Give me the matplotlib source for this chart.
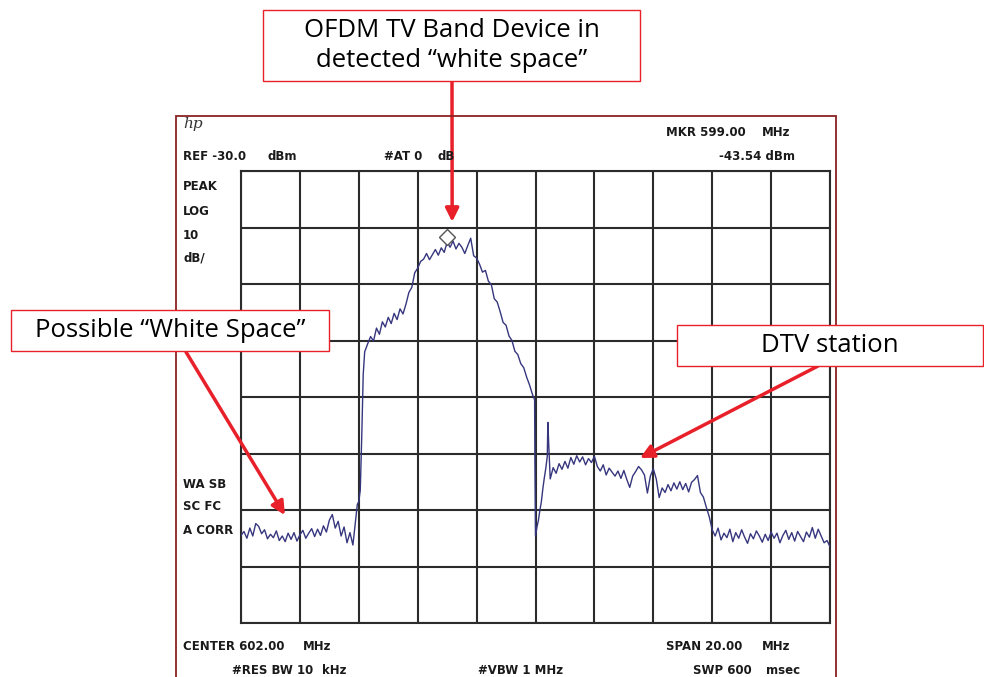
import numpy as np
import matplotlib
matplotlib.use("Agg")
import matplotlib.pyplot as plt
from matplotlib.patches import Rectangle

W, H = 984, 677

# ---------------- data ----------------
center_mhz = 602.0
span_mhz = 20.0
ref_dbm = -30.0
db_per_div = 10

# left noise floor: 592.0 .. 595.9 MHz, 0.1 MHz steps
floor_left_freq = np.linspace(592.0, 595.9, 40)
floor_left_dbm = [-94.5, -93.8, -95.0, -93.2, -94.6, -92.4, -92.9, -94.2, -93.5, -95.1,
                  -94.3, -94.9, -93.7, -95.4, -94.6, -95.6, -94.1, -95.2, -94.0, -95.5,
                  -94.4, -93.6, -95.0, -94.1, -93.3, -94.7, -93.4, -94.5, -92.8, -93.9,
                  -91.8, -90.8, -93.2, -92.0, -94.6, -93.0, -95.8, -94.0, -96.2, -91.5]

# rising edge of OFDM device
ofdm_edge_freq = [595.95, 596.0, 596.05, 596.1, 596.15, 596.2]
ofdm_edge_dbm = [-89.0, -88.5, -86.5, -77.0, -66.0, -62.0]

# OFDM TV band device: 596.3 .. 601.9 MHz, 0.1 MHz steps
ofdm_freq = np.linspace(596.3, 601.9, 57)
ofdm_dbm = [-60.6, -59.3, -60.1, -57.8, -58.9, -56.7, -57.6,
            -55.9, -57.0, -55.2, -56.3, -54.4, -55.3, -53.6, -51.5, -50.6, -48.0,
            -47.2, -46.0, -45.6, -44.6, -45.7, -44.8, -43.9, -44.9, -43.6, -44.4,
            -42.6, -43.5, -42.4, -43.8, -42.8, -43.5, -44.6, -43.2, -41.9, -45.0,
            -45.4, -46.5, -47.9, -47.6, -49.5, -50.1, -52.6, -53.2, -54.9, -56.8,
            -57.3, -59.2, -60.0, -61.9, -62.5, -64.1, -64.8, -66.5, -67.9, -69.6]

# falling edge / transition into DTV channel
gap_freq = [601.97, 601.98, 602.0, 602.05, 602.1, 602.15, 602.2, 602.25,
            602.3, 602.35, 602.4, 602.42, 602.45, 602.5]
gap_dbm = [-70.5, -81.5, -94.6, -93.0, -91.8, -90.0, -88.5, -86.2,
           -84.3, -82.6, -80.5, -74.5, -78.5, -84.5]

# DTV station: 602.6 .. 608.1 MHz, 0.1 MHz steps
dtv_freq = np.linspace(602.6, 608.1, 56)
dtv_dbm = [-82.5, -83.5, -81.8, -82.8,
           -81.4, -82.6, -80.7, -81.9, -80.4, -81.5, -80.6, -82.0, -80.9, -81.6,
           -80.5, -82.3, -83.1, -82.0, -83.8, -82.6, -83.3, -84.0, -83.1, -84.4,
           -83.0, -84.6, -86.0, -84.0, -83.2, -82.3, -82.9, -83.8, -87.0, -84.0,
           -82.7, -84.5, -87.8, -86.1, -86.9, -85.5, -86.6, -85.2, -86.3, -85.0,
           -86.4, -85.3, -86.8, -85.1, -84.6, -83.9, -86.9, -87.7, -89.5, -91.2,
           -93.5, -94.6]

# right noise floor: 608.2 .. 612.0 MHz, 0.1 MHz steps
floor_right_freq = np.linspace(608.2, 612.0, 39)
floor_right_dbm = [-93.2, -95.3, -94.1, -94.9, -93.4, -95.6, -94.0, -95.0,
                   -93.5, -94.8, -95.9, -94.2, -95.1, -93.7, -94.6, -95.7, -94.3, -95.4,
                   -93.9, -95.0, -94.1, -95.8, -94.5, -93.6, -95.2, -94.0, -95.5, -93.8,
                   -94.7, -95.6, -93.9, -94.8, -93.1, -95.0, -93.4, -94.6, -95.8, -95.4,
                   -96.5]

marker_mhz = 599.0
marker_dbm = -41.7

trace_freq = np.concatenate([floor_left_freq, ofdm_edge_freq, ofdm_freq, gap_freq,
                             dtv_freq, floor_right_freq])
trace_dbm = np.concatenate([floor_left_dbm, ofdm_edge_dbm, ofdm_dbm, gap_dbm,
                            dtv_dbm, floor_right_dbm])

# ---------------- figure ----------------
fig = plt.figure(figsize=(W / 100, H / 100), dpi=100)
fig.patch.set_facecolor("white")


def fx(x):
    return x / W


def fy(y):
    return 1 - y / H


# screenshot frame
fig.add_artist(Rectangle((fx(176), fy(690)), fx(836) - fx(176), fy(116) - fy(690),
                         transform=fig.transFigure, fill=False,
                         edgecolor="#8a2222", linewidth=1.3))

ax = fig.add_axes([fx(241), fy(623), fx(830) - fx(241), fy(171) - fy(623)])
f0 = center_mhz - span_mhz / 2
f1 = center_mhz + span_mhz / 2
ax.set_xlim(f0, f1)
ax.set_ylim(ref_dbm - 8 * db_per_div, ref_dbm)
ax.set_xticks(np.linspace(f0, f1, 11))
ax.set_yticks(np.linspace(ref_dbm - 8 * db_per_div, ref_dbm, 9))
ax.tick_params(length=0, labelbottom=False, labelleft=False)
ax.grid(True, color="#2b2b2b", linewidth=1.5)
for s in ax.spines.values():
    s.set_color("#2b2b2b")
    s.set_linewidth(1.5)

ax.plot(trace_freq, trace_dbm, color="#36367f", linewidth=1.0, zorder=3)
ax.plot([marker_mhz], [marker_dbm], marker="D", markersize=8, markerfacecolor="white",
        markeredgecolor="#555555", markeredgewidth=1.0, zorder=4, linestyle="none")

# ---------------- analyzer annotations ----------------
sa = dict(fontsize=8.5, fontweight="bold", family="DejaVu Sans", color="#1a1a1a", va="center")
fig.text(fx(183), fy(124), "hp", fontsize=11, style="italic", family="DejaVu Serif",
         color="#333333", va="center")
fig.text(fx(666), fy(133), "MKR 599.00", **sa)
fig.text(fx(762), fy(133), "MHz", **sa)
fig.text(fx(183), fy(157), "REF -30.0", **sa)
fig.text(fx(268), fy(157), "dBm", **sa)
fig.text(fx(384), fy(157), "#AT 0", **sa)
fig.text(fx(437), fy(157), "dB", **sa)
fig.text(fx(795), fy(157), "-43.54 dBm", ha="right", **sa)
for label, y in [("PEAK", 186), ("LOG", 212), ("10", 235), ("dB/", 258),
                 ("WA SB", 484), ("SC FC", 507), ("A CORR", 530)]:
    fig.text(fx(183), fy(y), label, **sa)
fig.text(fx(183), fy(647), "CENTER 602.00", **sa)
fig.text(fx(303), fy(647), "MHz", **sa)
fig.text(fx(666), fy(647), "SPAN 20.00", **sa)
fig.text(fx(762), fy(647), "MHz", **sa)
fig.text(fx(232), fy(670), "#RES BW 10", **sa)
fig.text(fx(322), fy(670), "kHz", **sa)
fig.text(fx(478), fy(670), "#VBW 1 MHz", **sa)
fig.text(fx(693), fy(670), "SWP 600", **sa)
fig.text(fx(766), fy(670), "msec", **sa)

# ---------------- callout boxes ----------------
red = "#e8202a"
callouts = [
    ((263, 10, 640, 81), "OFDM TV Band Device in\ndetected \u201cwhite space\u201d"),
    ((11, 310, 329, 351), "Possible \u201cWhite Space\u201d"),
    ((677, 325, 983, 366), "DTV station"),
]
for (x0, y0, x1, y1), txt in callouts:
    fig.add_artist(Rectangle((fx(x0), fy(y1)), fx(x1) - fx(x0), fy(y0) - fy(y1),
                             transform=fig.transFigure, facecolor="white",
                             edgecolor=red, linewidth=1.0))
    fig.text(fx((x0 + x1) / 2), fy((y0 + y1) / 2), txt, ha="center", va="center",
             fontsize=18.5, family="Open Sans", color="black", linespacing=1.22)

arrows = [((452, 81), (599.17, -39.0)),
          ((186, 352), (593.49, -90.9)),
          ((818, 366), (605.55, -80.8))]
for (sx, sy), tip in arrows:
    ax.annotate("", xy=tip, xycoords="data", xytext=(sx, H - sy),
                textcoords="figure pixels", annotation_clip=False,
                arrowprops=dict(arrowstyle="-|>", mutation_scale=20, lw=2.5,
                                color=red, shrinkA=0, shrinkB=0))

fig.savefig("out.png", dpi=100, facecolor="white")
